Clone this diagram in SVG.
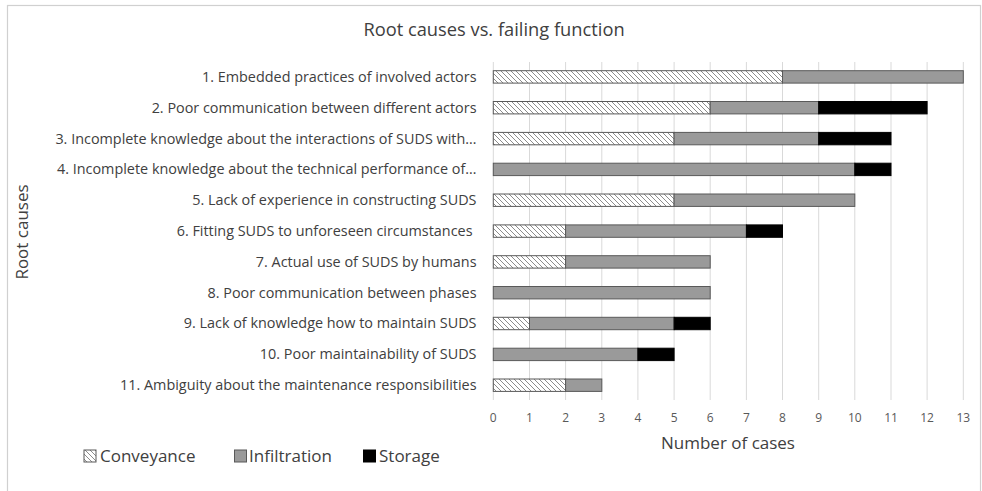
<svg xmlns="http://www.w3.org/2000/svg" width="982" height="491" viewBox="0 0 982 491">
<style>
text{font-family:"Open Sans","Noto Sans","DejaVu Sans",sans-serif;fill:#404040}
.lbl{font-size:14.4px;text-anchor:end}
.tick{font-size:12px;text-anchor:middle;fill:#595959}
.grid line{stroke:#d9d9d9;stroke-width:1}
.c{fill:url(#hatch);stroke:#595959;stroke-width:1}
.i{fill:#9a9a9a;stroke:#595959;stroke-width:1}
.s{fill:#000;stroke:#000;stroke-width:1}
.leg{font-size:17px}
</style>
<defs>
<pattern id="hatch" patternUnits="userSpaceOnUse" width="5" height="5">
<rect width="5" height="5" fill="#fff"/>
<path d="M-1,-1 L6,6 M-1,4 L1,6 M4,-1 L6,1" stroke="#8c8c8c" stroke-width="1"/>
</pattern>
</defs>
<rect x="0" y="0" width="982" height="491" fill="#fff"/>
<rect x="7.5" y="5.5" width="973" height="490" fill="none" stroke="#d0d0d0" stroke-width="1.2"/>
<text id="title" x="494" y="36" text-anchor="middle" font-size="18.3" fill="#404040">Root causes vs. failing function</text>
<g class="grid" id="grid">
<line x1="493.3" y1="62" x2="493.3" y2="400"/>
<line x1="529.5" y1="62" x2="529.5" y2="400"/>
<line x1="565.6" y1="62" x2="565.6" y2="400"/>
<line x1="601.8" y1="62" x2="601.8" y2="400"/>
<line x1="637.9" y1="62" x2="637.9" y2="400"/>
<line x1="674.1" y1="62" x2="674.1" y2="400"/>
<line x1="710.2" y1="62" x2="710.2" y2="400"/>
<line x1="746.4" y1="62" x2="746.4" y2="400"/>
<line x1="782.5" y1="62" x2="782.5" y2="400"/>
<line x1="818.7" y1="62" x2="818.7" y2="400"/>
<line x1="854.8" y1="62" x2="854.8" y2="400"/>
<line x1="891.0" y1="62" x2="891.0" y2="400"/>
<line x1="927.1" y1="62" x2="927.1" y2="400"/>
<line x1="963.3" y1="62" x2="963.3" y2="400"/>
</g>
<g id="ticks">
<text class="tick" x="493.3" y="422">0</text>
<text class="tick" x="529.5" y="422">1</text>
<text class="tick" x="565.6" y="422">2</text>
<text class="tick" x="601.8" y="422">3</text>
<text class="tick" x="637.9" y="422">4</text>
<text class="tick" x="674.1" y="422">5</text>
<text class="tick" x="710.2" y="422">6</text>
<text class="tick" x="746.4" y="422">7</text>
<text class="tick" x="782.5" y="422">8</text>
<text class="tick" x="818.7" y="422">9</text>
<text class="tick" x="854.8" y="422">10</text>
<text class="tick" x="891.0" y="422">11</text>
<text class="tick" x="927.1" y="422">12</text>
<text class="tick" x="963.3" y="422">13</text>
</g>
<text id="xaxis-title" x="728" y="449" text-anchor="middle" font-size="17">Number of cases</text>
<text id="yaxis-title" transform="translate(28,232) rotate(-90)" text-anchor="middle" font-size="17">Root causes</text>
<g id="labels">
<text class="lbl" x="476.5" y="81.8">1. Embedded practices of involved actors</text>
<text class="lbl" x="476.5" y="112.6">2. Poor communication between different actors</text>
<text class="lbl" x="476.5" y="143.5">3. Incomplete knowledge about the interactions of SUDS with…</text>
<text class="lbl" x="476.5" y="174.3">4. Incomplete knowledge about the technical performance of…</text>
<text class="lbl" x="476.5" y="205.1">5. Lack of experience in constructing SUDS</text>
<text class="lbl" x="472.5" y="236">6. Fitting SUDS to unforeseen circumstances</text>
<text class="lbl" x="476.5" y="266.8">7. Actual use of SUDS by humans</text>
<text class="lbl" x="476.5" y="297.6">8. Poor communication between phases</text>
<text class="lbl" x="476.5" y="328.4">9. Lack of knowledge how to maintain SUDS</text>
<text class="lbl" x="476.5" y="359.3">10. Poor maintainability of SUDS</text>
<text class="lbl" x="476.5" y="390.1">11. Ambiguity about the maintenance responsibilities</text>
</g>
<g id="bars">
<g id="row1"><rect class="c" x="493.3" y="70.7" width="289.2" height="12.4"/><rect class="i" x="782.5" y="70.7" width="180.8" height="12.4"/></g>
<g id="row2"><rect class="c" x="493.3" y="101.5" width="216.9" height="12.4"/><rect class="i" x="710.2" y="101.5" width="108.5" height="12.4"/><rect class="s" x="818.7" y="101.5" width="108.4" height="12.4"/></g>
<g id="row3"><rect class="c" x="493.3" y="132.4" width="180.8" height="12.4"/><rect class="i" x="674.1" y="132.4" width="144.6" height="12.4"/><rect class="s" x="818.7" y="132.4" width="72.3" height="12.4"/></g>
<g id="row4"><rect class="i" x="493.3" y="163.2" width="361.5" height="12.4"/><rect class="s" x="854.8" y="163.2" width="36.2" height="12.4"/></g>
<g id="row5"><rect class="c" x="493.3" y="194" width="180.8" height="12.4"/><rect class="i" x="674.1" y="194" width="180.7" height="12.4"/></g>
<g id="row6"><rect class="c" x="493.3" y="224.9" width="72.3" height="12.4"/><rect class="i" x="565.6" y="224.9" width="180.8" height="12.4"/><rect class="s" x="746.4" y="224.9" width="36.1" height="12.4"/></g>
<g id="row7"><rect class="c" x="493.3" y="255.7" width="72.3" height="12.4"/><rect class="i" x="565.6" y="255.7" width="144.6" height="12.4"/></g>
<g id="row8"><rect class="i" x="493.3" y="286.5" width="216.9" height="12.4"/></g>
<g id="row9"><rect class="c" x="493.3" y="317.3" width="36.2" height="12.4"/><rect class="i" x="529.5" y="317.3" width="144.6" height="12.4"/><rect class="s" x="674.1" y="317.3" width="36.1" height="12.4"/></g>
<g id="row10"><rect class="i" x="493.3" y="348.2" width="144.6" height="12.4"/><rect class="s" x="637.9" y="348.2" width="36.2" height="12.4"/></g>
<g id="row11"><rect class="c" x="493.3" y="379" width="72.3" height="12.4"/><rect class="i" x="565.6" y="379" width="36.2" height="12.4"/></g>
</g>
<g id="legend">
<rect class="c" x="84" y="450" width="12" height="12"/>
<text class="leg" x="100" y="462">Conveyance</text>
<rect class="i" x="234.5" y="450" width="12" height="12"/>
<text class="leg" x="249" y="462">Infiltration</text>
<rect class="s" x="363.5" y="450" width="12" height="12"/>
<text class="leg" x="379" y="462">Storage</text>
</g>
</svg>
